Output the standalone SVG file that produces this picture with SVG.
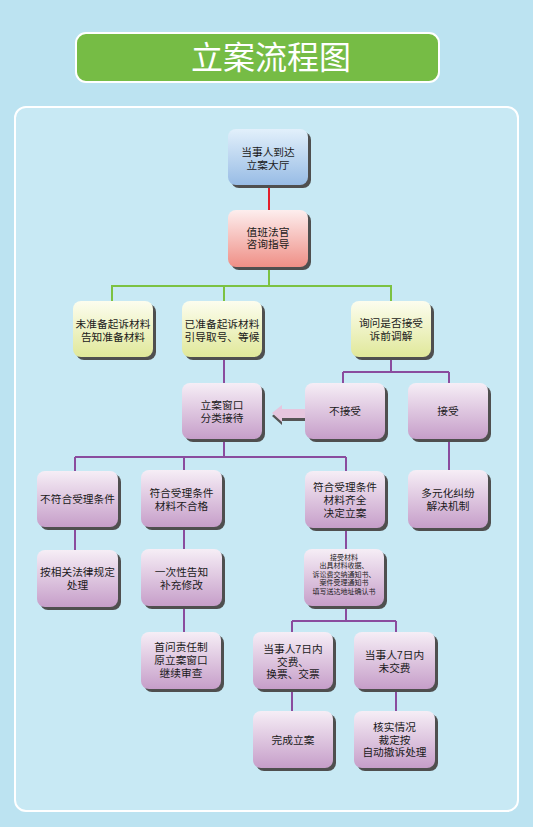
<svg xmlns="http://www.w3.org/2000/svg" width="533" height="827" viewBox="0 0 533 827">
<defs>
<linearGradient id="gBlue" x1="0" y1="0" x2="0" y2="1"><stop offset="0" stop-color="#e2f0fb"/><stop offset="1" stop-color="#98bce5"/></linearGradient>
<linearGradient id="gRed" x1="0" y1="0" x2="0" y2="1"><stop offset="0" stop-color="#fdeeee"/><stop offset="1" stop-color="#ef8f86"/></linearGradient>
<linearGradient id="gYel" x1="0" y1="0" x2="0" y2="1"><stop offset="0" stop-color="#fcfdef"/><stop offset="1" stop-color="#e0e89a"/></linearGradient>
<linearGradient id="gPur" x1="0" y1="0" x2="0" y2="1"><stop offset="0" stop-color="#f6eef6"/><stop offset="1" stop-color="#c69ec9"/></linearGradient>
</defs>
<style>
.sh{fill:#4f4f4f}
.blue{fill:url(#gBlue)}
.red{fill:url(#gRed)}
.yel{fill:url(#gYel)}
.pur{fill:url(#gPur)}
text{font-family:"Liberation Sans","Noto Sans CJK SC",sans-serif;fill:#1a1a1a;text-anchor:middle}
.t{font-size:10.7px}
.s{font-size:7px}
.title{font-size:32px;fill:#ffffff;font-family:"Noto Sans CJK SC",sans-serif}
.lr{stroke:#e3202b;stroke-width:2;fill:none}
.lg{stroke:#7cc242;stroke-width:2;fill:none}
.lp{stroke:#8a4c9e;stroke-width:2;fill:none}
</style>
<rect x="0" y="0" width="533" height="827" fill="#bce3f1"/>
<g id="title">
<rect x="76" y="33" width="363" height="49" rx="10" fill="#76bc45" stroke="#ffffff" stroke-width="2"/>
<text class="title" x="271" y="69">立案流程图</text>
</g>
<rect id="panel" x="15" y="107" width="503" height="704" rx="11" fill="#c8e9f4" stroke="#ffffff" stroke-width="2"/>
<g id="connectors">
<path class="lr" d="M269 185V210"/>
<path class="lg" d="M269 267V286M112 301V286H391V301M224 286V301"/>
<path class="lp" d="M224 357V383"/>
<path class="lp" d="M391 357V372M343 372H449M343 372V383M449 372V383"/>
<path class="lp" d="M224 439V457M75 457H346M75 457V471M184 457V470M346 457V471"/>
<path class="lp" d="M449 439V470"/>
<path class="lp" d="M75 527V550M184 527V549M184 606V632M346 528V549"/>
<path class="lp" d="M346 606V621M292 621H396M292 621V632M396 621V632"/>
<path class="lp" d="M292 689V711M396 689V711"/>
<g id="arrow">
<polygon points="272,416 282,408 282,412 306,412 306,421 282,421 282,425" fill="#555555"/>
<polygon points="272,413 282,405 282,409 306,409 306,418 282,418 282,422" fill="#e6c6de"/>
</g>
</g>
<g id="n1"><rect class="sh" x="231" y="132" width="80" height="56" rx="8"/><rect class="blue" x="228" y="129" width="80" height="56" rx="8"/><text class="t" x="268" y="156">当事人到达</text><text class="t" x="268" y="168.5">立案大厅</text></g>
<g id="n2"><rect class="sh" x="231" y="213" width="80" height="57" rx="8"/><rect class="red" x="228" y="210" width="80" height="57" rx="8"/><text class="t" x="268" y="235.5">值班法官</text><text class="t" x="268" y="248">咨询指导</text></g>
<g id="n3"><rect class="sh" x="76" y="304" width="80" height="56" rx="8"/><rect class="yel" x="73" y="301" width="80" height="56" rx="8"/><text class="t" x="113" y="328">未准备起诉材料</text><text class="t" x="113" y="341">告知准备材料</text></g>
<g id="n4"><rect class="sh" x="185" y="304" width="80" height="56" rx="8"/><rect class="yel" x="182" y="301" width="80" height="56" rx="8"/><text class="t" x="222" y="328">已准备起诉材料</text><text class="t" x="222" y="341">引导取号、等候</text></g>
<g id="n5"><rect class="sh" x="354" y="304" width="80" height="56" rx="8"/><rect class="yel" x="351" y="301" width="80" height="56" rx="8"/><text class="t" x="391" y="327">询问是否接受</text><text class="t" x="391" y="340">诉前调解</text></g>
<g id="n6"><rect class="sh" x="185" y="386" width="80" height="56" rx="8"/><rect class="pur" x="182" y="383" width="80" height="56" rx="8"/><text class="t" x="222" y="409">立案窗口</text><text class="t" x="222" y="422">分类接待</text></g>
<g id="n7"><rect class="sh" x="308" y="386" width="80" height="56" rx="8"/><rect class="pur" x="305" y="383" width="80" height="56" rx="8"/><text class="t" x="345" y="415">不接受</text></g>
<g id="n8"><rect class="sh" x="411" y="386" width="80" height="56" rx="8"/><rect class="pur" x="408" y="383" width="80" height="56" rx="8"/><text class="t" x="448" y="415">接受</text></g>
<g id="n9"><rect class="sh" x="40" y="474" width="81" height="56" rx="8"/><rect class="pur" x="37" y="471" width="81" height="56" rx="8"/><text class="t" x="77.5" y="503">不符合受理条件</text></g>
<g id="n10"><rect class="sh" x="144" y="473" width="81" height="57" rx="8"/><rect class="pur" x="141" y="470" width="81" height="57" rx="8"/><text class="t" x="181.5" y="497">符合受理条件</text><text class="t" x="181.5" y="509.5">材料不合格</text></g>
<g id="n11"><rect class="sh" x="308" y="474" width="80" height="57" rx="8"/><rect class="pur" x="305" y="471" width="80" height="57" rx="8"/><text class="t" x="345" y="491">符合受理条件</text><text class="t" x="345" y="504">材料齐全</text><text class="t" x="345" y="517">决定立案</text></g>
<g id="n12"><rect class="sh" x="411" y="473" width="80" height="58" rx="8"/><rect class="pur" x="408" y="470" width="80" height="58" rx="8"/><text class="t" x="448" y="497">多元化纠纷</text><text class="t" x="448" y="509.5">解决机制</text></g>
<g id="n13"><rect class="sh" x="40" y="553" width="81" height="57" rx="8"/><rect class="pur" x="37" y="550" width="81" height="57" rx="8"/><text class="t" x="77.5" y="576">按相关法律规定</text><text class="t" x="77.5" y="588.5">处理</text></g>
<g id="n14"><rect class="sh" x="144" y="552" width="81" height="57" rx="8"/><rect class="pur" x="141" y="549" width="81" height="57" rx="8"/><text class="t" x="181.5" y="576">一次性告知</text><text class="t" x="181.5" y="589">补充修改</text></g>
<g id="n15"><rect class="sh" x="307" y="552" width="80" height="57" rx="8"/><rect class="pur" x="304" y="549" width="80" height="57" rx="8"/><text class="s" x="344" y="559.5">接受材料</text><text class="s" x="344" y="568">出具材料收据、</text><text class="s" x="344" y="576.5">诉讼费交纳通知书、</text><text class="s" x="344" y="585">案件受理通知书</text><text class="s" x="344" y="593.5">填写送达地址确认书</text></g>
<g id="n16"><rect class="sh" x="144" y="635" width="80" height="57" rx="8"/><rect class="pur" x="141" y="632" width="80" height="57" rx="8"/><text class="t" x="181" y="651">首问责任制</text><text class="t" x="181" y="664">原立案窗口</text><text class="t" x="181" y="677">继续审查</text></g>
<g id="n17"><rect class="sh" x="256" y="635" width="80" height="57" rx="8"/><rect class="pur" x="253" y="632" width="80" height="57" rx="8"/><text class="t" x="293" y="653">当事人7日内</text><text class="t" x="293" y="665.5">交费、</text><text class="t" x="293" y="678">换票、交票</text></g>
<g id="n18"><rect class="sh" x="357" y="635" width="81" height="57" rx="8"/><rect class="pur" x="354" y="632" width="81" height="57" rx="8"/><text class="t" x="394.5" y="659">当事人7日内</text><text class="t" x="394.5" y="672">未交费</text></g>
<g id="n19"><rect class="sh" x="256" y="714" width="80" height="57" rx="8"/><rect class="pur" x="253" y="711" width="80" height="57" rx="8"/><text class="t" x="293" y="744">完成立案</text></g>
<g id="n20"><rect class="sh" x="357" y="714" width="81" height="57" rx="8"/><rect class="pur" x="354" y="711" width="81" height="57" rx="8"/><text class="t" x="394.5" y="731">核实情况</text><text class="t" x="394.5" y="743.5">裁定按</text><text class="t" x="394.5" y="756">自动撤诉处理</text></g>
</svg>
